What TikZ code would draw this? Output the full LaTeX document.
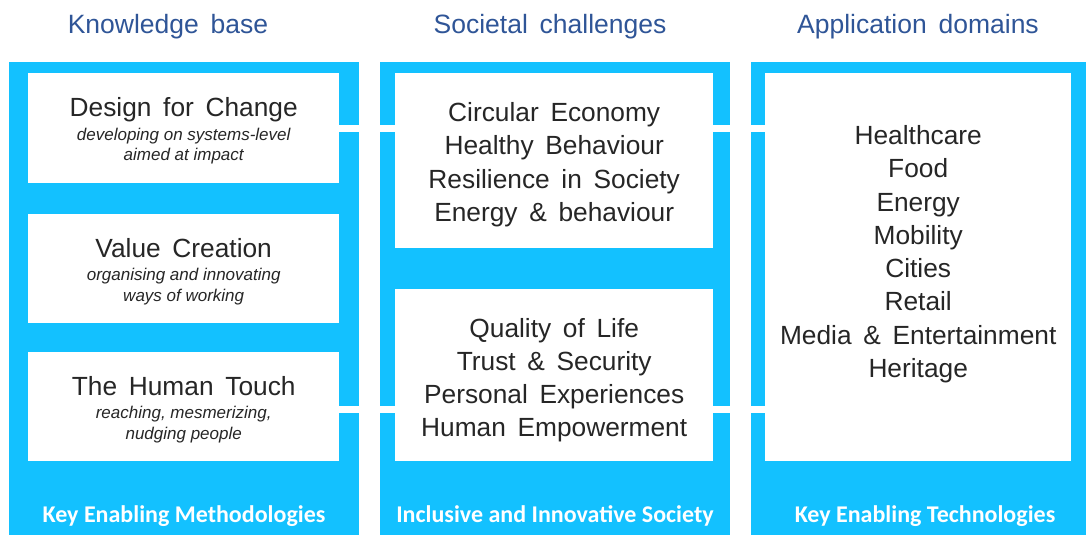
\documentclass[tikz,border=0pt]{standalone}
\usepackage{fontspec}
\setmainfont[WordSpace=1.6]{Liberation Sans}
\newfontfamily\subfont{Liberation Sans}
\newfontfamily\calibrifont{Carlito}
\usetikzlibrary{positioning}
\definecolor{mblue}{HTML}{13C1FF}
\definecolor{mnavy}{HTML}{2F5597}
\definecolor{mgrey}{HTML}{262626}
\tikzset{box/.style = {fill=white, inner sep=0pt, anchor=north west},
         head/.style = {mnavy, inner sep=0pt, anchor=base,
                        font=\fontsize{26.5}{30}\selectfont},
         boxtitle/.style = {mgrey, inner sep=0pt, text height=19pt, text depth=5.5pt,
                            font=\fontsize{26.3}{30}\selectfont},
         boxsub/.style = {mgrey, inner sep=0pt, align=center,
                          font=\subfont\itshape\fontsize{17}{20.7}\selectfont},
         itemlist/.style = {mgrey, inner sep=0pt, align=center,
                            font=\fontsize{26.3}{33.3}\selectfont},
         foot/.style = {white, inner sep=0pt, anchor=base,
                        font=\calibrifont\bfseries\fontsize{24}{28}\selectfont},
         link/.style = {white, line width=7pt}}

\begin{document}
\begin{tikzpicture}[x=1pt, y=-1pt]
    \useasboundingbox (0, 0) rectangle (1086, 535);

    % three columns
    \fill [mblue] (9, 62) rectangle (359, 535);
    \fill [mblue] (380, 62) rectangle (730, 535);
    \fill [mblue] (751, 62) rectangle (1086, 535);

    \node [head] (kbh) at (168, 34) {Knowledge base};
    \node [head] (sch) at (550, 34) {Societal challenges};
    \node [head] (adh) at (918, 34) {Application domains};

    \node [box, minimum width=311pt, minimum height=110pt] (dfc) at (28, 73) {};
    \node [box, minimum width=311pt, minimum height=109pt] (val) at (28, 214) {};
    \node [box, minimum width=311pt, minimum height=109pt] (hum) at (28, 352) {};
    \node [box, minimum width=318pt, minimum height=175pt] (chalA) at (395, 73) {};
    \node [box, minimum width=318pt, minimum height=172pt] (chalB) at (395, 289) {};
    \node [box, minimum width=306pt, minimum height=388pt] (apps) at (765, 73) {};

    \node [boxtitle] (dfct) at ([yshift=18pt]dfc.center) {Design for Change};
    \node [boxsub, below=5pt of dfct] (dfcs) {developing on systems-level\\aimed at impact};
    \node [boxtitle] (valt) at ([yshift=18pt]val.center) {Value Creation};
    \node [boxsub, below=5pt of valt] (vals) {organising and innovating\\ways of working};
    \node [boxtitle] (humt) at ([yshift=18pt]hum.center) {The Human Touch};
    \node [boxsub, below=5pt of humt] (hums) {reaching, mesmerizing,\\nudging people};

    \node [itemlist] (chalAt) at ([yshift=-4pt]chalA.center)
        {Circular Economy\\Healthy Behaviour\\Resilience in Society\\Energy \& behaviour};
    \node [itemlist] (chalBt) at ([yshift=-5pt]chalB.center)
        {Quality of Life\\Trust \& Security\\Personal Experiences\\Human Empowerment};
    \node [itemlist] (appst) at ([yshift=13pt]apps.center)
        {Healthcare\\Food\\Energy\\Mobility\\Cities\\Retail\\Media \& Entertainment\\Heritage};

    \node [foot] (kem) at (184, 522) {Key Enabling Methodologies};
    \node [foot] (iis) at (555, 522) {Inclusive and Innovative Society};
    \node [foot] (ket) at (925, 522) {Key Enabling Technologies};

    \draw [link] (dfc.east) -- (dfc.east -| chalA.west);
    \draw [link] (dfc.east -| chalA.east) -- (dfc.east -| apps.west);
    \draw [link] ([yshift=-3pt]hum.east) -- ([yshift=-3pt]hum.east -| chalB.west);
    \draw [link] ([yshift=-3pt]hum.east -| chalB.east) -- ([yshift=-3pt]hum.east -| apps.west);
  \end{tikzpicture}
\end{document}
